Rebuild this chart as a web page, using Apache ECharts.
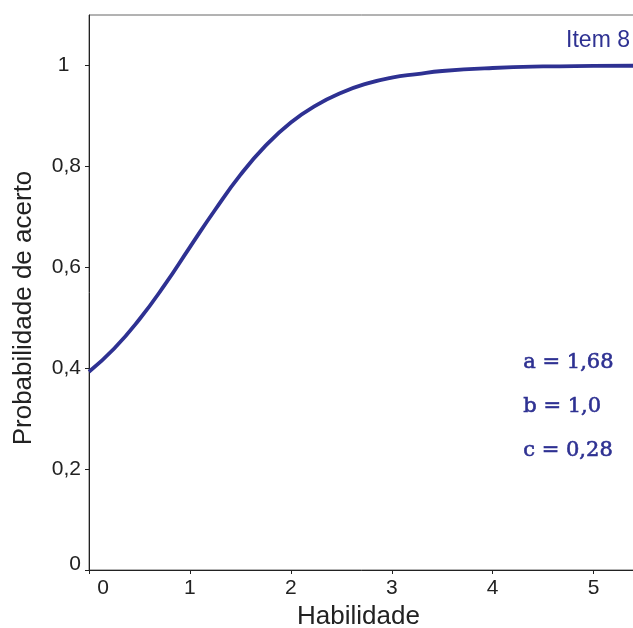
<!DOCTYPE html>
<html>
<head>
<meta charset="utf-8">
<script src="https://cdn.jsdelivr.net/npm/echarts@6/dist/echarts.min.js"></script>
<style>
  html, body { margin: 0; padding: 0; background: #fff; }
  #chart { width: 633px; height: 628px; }
</style>
</head>
<body>
<div id="chart"></div>
<script>
// habilidade (theta) e probabilidade de acerto
var habilidade = [0, 0.25, 0.5, 0.75, 1, 1.25, 1.5, 1.75, 2, 2.25, 2.5, 2.75, 3, 3.25, 3.5, 4, 4.5, 5, 5.45];
var probAcerto = [0.393, 0.439, 0.497, 0.565, 0.64, 0.714, 0.783, 0.841, 0.887, 0.921, 0.946, 0.964, 0.976, 0.983, 0.989, 0.995, 0.998, 0.999, 0.9995];
var xTicks = [0, 1, 2, 3, 4, 5];
var yTicks = [0, 0.2, 0.4, 0.6, 0.8, 1];
var parametros = ['a = 1,68', 'b = 1,0', 'c = 0,28'];
var titulo = 'Item 8';

var azul = '#2e3192';
var chart = echarts.init(document.getElementById('chart'));

var pontos = [];
for (var i = 0; i < habilidade.length; i++) {
  pontos.push([habilidade[i], probAcerto[i]]);
}

var textos = parametros.map(function (t, i) {
  return {
    type: 'text',
    left: 523,
    top: 352 + i * 44,
    style: { text: t, fill: azul, stroke: azul, lineWidth: 0.6, font: '21px "DejaVu Serif", serif' }
  };
});
textos.push({
  type: 'text',
  right: 3,
  top: 29,
  style: { text: titulo, fill: azul, font: '23px "Liberation Sans", Arial, sans-serif' }
});
// titulo do eixo y
textos.push({
  type: 'text',
  x: 24, y: 308,
  rotation: Math.PI / 2,
  style: {
    text: 'Probabilidade de acerto', fill: '#222',
    font: '26px "Liberation Sans", Arial, sans-serif',
    align: 'center', verticalAlign: 'middle'
  }
});

var option = {
  animation: false,
  grid: {
    left: 89, top: 15, right: -3, bottom: 58,
    outerBoundsMode: 'none',
    containLabel: false,
    show: true, borderColor: '#666', borderWidth: 1
  },
  xAxis: {
    type: 'value',
    min: 0, max: 5.42, interval: 1,
    name: 'Habilidade',
    nameLocation: 'middle',
    nameGap: 34,
    nameTextStyle: { fontSize: 26, color: '#222', fontFamily: 'Liberation Sans', padding: [0, 8, 0, 0] },
    axisLine: { lineStyle: { color: '#222', width: 1 } },
    axisTick: { show: true, length: 4, customValues: xTicks, lineStyle: { color: '#222' } },
    splitLine: { show: false },
    axisLabel: {
      color: '#222', fontSize: 21, fontFamily: 'Liberation Sans', margin: 8,
      customValues: xTicks,
      formatter: function (v) { return v === 0 ? '{z|0}' : String(v); },
      rich: { z: { fontSize: 21, color: '#222', fontFamily: 'Liberation Sans', padding: [0, 0, 0, 28] } }
    }
  },
  yAxis: {
    type: 'value',
    min: 0, max: 1.1, interval: 0.2,
    axisLine: { show: true, lineStyle: { color: '#222', width: 1 } },
    axisTick: { show: true, length: 4, customValues: yTicks, lineStyle: { color: '#222' } },
    splitLine: { show: false },
    axisLabel: {
      color: '#222', fontSize: 21, fontFamily: 'Liberation Sans', margin: 8,
      customValues: yTicks,
      formatter: function (v) {
        if (v === 0) return '{z|0}';
        if (Math.abs(v - 1) < 1e-6) return '1  ';
        return v.toFixed(1).replace('.', ',');
      },
      rich: { z: { fontSize: 21, color: '#222', fontFamily: 'Liberation Sans', padding: [0, 0, 12, 0] } }
    }
  },
  series: [{
    type: 'line',
    data: pontos,
    smooth: true,
    showSymbol: false,
    lineStyle: { color: azul, width: 3.8 }
  }],
  graphic: textos
};
chart.setOption(option);
</script>
</body>
</html>
